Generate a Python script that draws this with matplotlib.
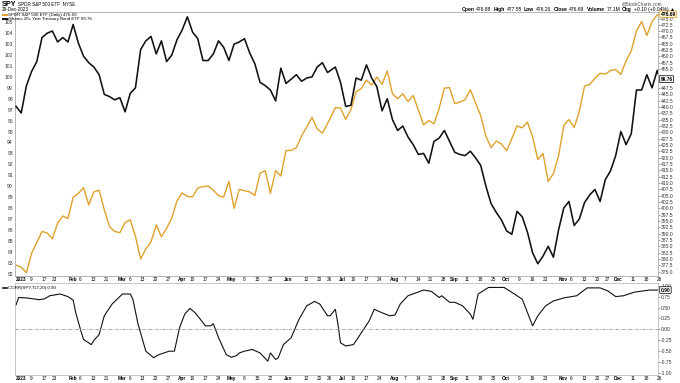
import matplotlib
matplotlib.use('Agg')
import matplotlib.pyplot as plt
import matplotlib.transforms as mtransforms
import pandas as pd

# price data: every other trading session
price_dates = [
    '01-03', '01-05', '01-09', '01-11', '01-13', '01-18', '01-20', '01-24', '01-26', '01-30',
    '02-01', '02-03', '02-07', '02-09', '02-13', '02-15', '02-17', '02-22', '02-24', '02-28',
    '03-02', '03-06', '03-08', '03-10', '03-14', '03-16', '03-20', '03-22', '03-24', '03-28', '03-30',
    '04-03', '04-05', '04-10', '04-12', '04-14', '04-18', '04-20', '04-24', '04-26', '04-28',
    '05-02', '05-04', '05-08', '05-10', '05-12', '05-16', '05-18', '05-22', '05-24', '05-26', '05-31',
    '06-02', '06-06', '06-08', '06-12', '06-14', '06-16', '06-21', '06-23', '06-27', '06-30',
    '07-05', '07-07', '07-11', '07-13', '07-17', '07-19', '07-21', '07-25', '07-27', '07-31',
    '08-02', '08-04', '08-08', '08-10', '08-14', '08-16', '08-18', '08-22', '08-24', '08-28', '08-30',
    '09-01', '09-06', '09-08', '09-12', '09-14', '09-18', '09-20', '09-22', '09-26', '09-28',
    '10-02', '10-04', '10-06', '10-10', '10-12', '10-16', '10-18', '10-20', '10-24', '10-26', '10-30',
    '11-01', '11-03', '11-07', '11-09', '11-13', '11-15', '11-17', '11-21', '11-24', '11-28', '11-30',
    '12-04', '12-06', '12-08', '12-12', '12-14', '12-18', '12-20', '12-22', '12-27', '12-28',
]

spy_close = [
    377.6, 376.8, 374.6, 382.3, 386.5, 390.9, 390.3, 388.0, 394.2, 397.0,
    396.0, 404.4, 405.9, 408.2, 401.4, 406.5, 407.2, 399.5, 392.8, 390.9,
    390.4, 394.4, 395.5, 389.0, 380.0, 384.0, 386.8, 393.5, 388.8, 392.1, 396.2,
    403.0, 406.1, 404.7, 404.6, 408.0, 408.6, 408.8, 407.2, 405.0, 404.5,
    410.7, 400.0, 407.5, 407.0, 406.5, 405.1, 413.9, 414.9, 406.0, 414.9, 412.8,
    422.8, 422.9, 424.0, 428.7, 432.1, 436.0, 431.4, 429.7, 433.5, 439.8,
    439.6, 435.1, 439.0, 446.1, 447.3, 450.7, 448.7, 451.9, 449.0, 454.3,
    445.3, 443.3, 445.3, 442.2, 444.6, 438.8, 433.0, 434.7, 433.4, 439.5, 447.5,
    447.7, 441.4, 442.0, 443.0, 446.9, 441.7, 436.7, 428.5, 424.0, 426.6,
    425.4, 422.8, 427.6, 432.6, 431.8, 434.1, 428.3, 419.3, 421.7, 410.7, 413.7,
    420.8, 432.8, 435.1, 431.9, 438.3, 448.3, 448.9, 451.4, 453.4, 453.0, 454.5,
    454.8, 452.9, 458.3, 462.2, 470.1, 473.8, 468.3, 473.7, 476.5, 476.69,
]

tlt_close = [
    97.3, 96.7, 99.2, 100.5, 101.4, 103.6, 104.0, 104.2, 103.2, 103.6,
    103.2, 104.8, 103.1, 101.9, 101.3, 100.9, 100.2, 98.4, 98.2, 97.9,
    98.1, 96.8, 98.5, 99.0, 102.5, 103.3, 103.7, 102.1, 103.3, 101.4, 102.0,
    103.4, 104.3, 105.5, 104.1, 103.5, 101.5, 101.5, 102.1, 103.3, 102.7,
    101.5, 103.0, 103.2, 103.5, 102.2, 101.2, 99.5, 99.2, 98.8, 97.8, 100.8,
    99.4, 99.8, 100.2, 99.6, 99.9, 100.0, 100.9, 101.3, 100.4, 100.9,
    99.5, 97.3, 97.4, 99.9, 99.7, 101.1, 99.9, 99.1, 96.9, 98.0,
    96.1, 95.1, 95.5, 94.5, 93.8, 92.9, 93.0, 92.1, 94.1, 94.4, 95.1,
    94.1, 93.1, 92.9, 92.8, 93.2, 92.6, 91.9, 90.0, 88.4, 87.6,
    86.9, 85.9, 85.6, 87.7, 87.2, 85.8, 83.9, 82.9, 83.6, 84.5, 83.5,
    86.0, 88.0, 88.6, 86.4, 87.0, 88.5, 89.2, 89.7, 88.6, 90.6, 91.4,
    92.8, 95.0, 93.8, 94.8, 98.8, 98.8, 100.2, 99.0, 100.6, 99.8,
]

corr_dates = [
    '01-03', '01-04', '01-09', '01-17', '01-19', '01-23', '01-27', '02-01', '02-03', '02-06',
    '02-08', '02-09', '02-14', '02-15', '02-17', '02-22', '02-27', '03-03', '03-08', '03-09',
    '03-13', '03-16', '03-21', '03-23', '03-29', '03-31', '04-04', '04-06', '04-11', '04-13',
    '04-19', '04-21', '04-24', '04-26', '05-01', '05-03', '05-05', '05-08', '05-10', '05-15',
    '05-18', '05-23', '05-24', '05-26', '05-30', '06-01', '06-06', '06-09', '06-14', '06-20',
    '06-22', '06-27', '06-28', '06-30', '07-03', '07-05', '07-07', '07-12', '07-17', '07-20',
    '07-24', '07-27', '08-01', '08-03', '08-07', '08-10', '08-18', '08-23', '08-28', '08-29',
    '09-01', '09-06', '09-11', '09-14', '09-15', '09-19', '09-25', '10-03', '10-09', '10-12',
    '10-18', '10-20', '10-25', '10-30', '11-03', '11-10', '11-16', '11-24', '11-29', '12-04',
    '12-07', '12-13', '12-21', '12-28',
]
corr_values = [
    0.56, 0.73, 0.72, 0.68, 0.70, 0.77, 0.81, 0.75, 0.67, 0.38,
    -0.04, -0.23, -0.35, -0.25, -0.12, 0.31, 0.58, 0.81, 0.81, 0.69,
    0.12, -0.50, -0.65, -0.58, -0.50, -0.50, 0.04, 0.35, 0.48, 0.38,
    0.08, 0.08, 0.13, -0.19, -0.58, -0.64, -0.60, -0.54, -0.50, -0.46,
    -0.54, -0.73, -0.54, -0.69, -0.65, -0.35, -0.19, 0.23, 0.54, 0.64,
    0.58, 0.31, 0.31, 0.46, 0.12, -0.31, -0.38, -0.35, -0.08, 0.19,
    0.46, 0.38, 0.31, 0.33, 0.58, 0.77, 0.90, 0.87, 0.73, 0.77,
    0.62, 0.62, 0.54, 0.35, 0.23, 0.81, 0.96, 0.96, 0.81, 0.69,
    0.08, 0.31, 0.54, 0.65, 0.72, 0.77, 0.95, 0.95, 0.88, 0.75,
    0.77, 0.85, 0.90, 0.90,
]

tick_dates = [
    '01-03', '01-09', '01-17', '01-23', '02-01', '02-06', '02-13', '02-21', '03-01', '03-06',
    '03-13', '03-20', '03-27', '04-03', '04-10', '04-17', '04-24', '05-01', '05-08', '05-15',
    '05-22', '06-01', '06-12', '06-20', '06-26', '07-03', '07-10', '07-17', '07-24', '08-01',
    '08-07', '08-14', '08-21', '08-28', '09-01', '09-11', '09-18', '09-25', '10-02', '10-09',
    '10-16', '10-23', '11-01', '11-06', '11-13', '11-20', '11-27', '12-01', '12-11', '12-18',
    '12-26',
]
tick_labels = [
    '2023', '9', '17', '23', 'Feb', '6', '13', '21', 'Mar', '6',
    '13', '20', '27', 'Apr', '10', '17', '24', 'May', '8', '15',
    '22', 'Jun', '12', '20', '26', 'Jul', '10', '17', '24', 'Aug',
    '7', '14', '21', '28', 'Sep', '11', '18', '25', 'Oct', '9',
    '16', '23', 'Nov', '6', '13', '20', '27', 'Dec', '11', '18',
    '26',
]

holidays = ['2023-01-16', '2023-02-20', '2023-04-07', '2023-05-29', '2023-06-19',
            '2023-07-04', '2023-09-04', '2023-11-23', '2023-12-25']
sessions = pd.bdate_range('2023-01-03', '2023-12-29').drop(pd.to_datetime(holidays))


def session_pos(dates):
    return sessions.get_indexer(pd.to_datetime(['2023-' + d for d in dates]))


GOLD = '#DFA12B'
plt.rcParams['font.family'] = ['Liberation Sans', 'DejaVu Sans']
FS = 3.6
XFS = 3.4
LFS = 3.2

W, H = 680, 383
fig = plt.figure(figsize=(W / 100, H / 100), dpi=100)


def px_box(l, t, r, b):
    return [l / W, 1 - b / H, (r - l) / W, (b - t) / H]


ax = fig.add_axes(px_box(15, 12, 658, 276))
ax2 = ax.twinx()
ax3 = fig.add_axes(px_box(15, 283, 658, 375))

xp = session_pos(price_dates)
xc = session_pos(corr_dates)
xt = session_pos(tick_dates)
xlim = (-0.4, 247.3)

ax.plot(xp, tlt_close, color='#111111', lw=1.15, zorder=3)
ax2.plot(xp, spy_close, color=GOLD, lw=1.0, zorder=2)
ax.set_zorder(ax2.get_zorder() + 1)
ax.patch.set_visible(False)

ax.set_ylim(81.78, 105.94)
ax2.set_ylim(373.3, 477.57)
ax.set_yticks(range(82, 106))
ax.set_yticklabels([str(v) for v in range(82, 106)])

# right scale labels; the ones hidden behind the TLT value box are left blank
spy_ticks = [375 + 2.5 * i for i in range(41)]
ax2.set_yticks(spy_ticks)
ax2.set_yticklabels(['' if v in (450.0, 452.5) else f'{v:.1f}' for v in spy_ticks])

ax3.plot(xc, corr_values, color='#111111', lw=0.8)
ax3.axhline(0, color='#9a9a9a', lw=0.6, ls=(0, (4, 1.5, 1, 1.5)))
ax3.set_ylim(-1.046, 1.062)
ax3.yaxis.tick_right()
corr_ticks = [-1, -0.75, -0.5, -0.25, 0, 0.25, 0.5, 0.75, 1]
ax3.set_yticks(corr_ticks)
ax3.set_yticklabels([f'{v:.2f}' for v in corr_ticks])

for a in (ax, ax2, ax3):
    a.set_xlim(*xlim)
    a.set_xticks([])

# date labels under both panels, centred a little right of the session
for a in (ax, ax3):
    blend = mtransforms.blended_transform_factory(a.transData, a.transAxes)
    for x, lab in zip(xt, tick_labels):
        bold = lab == '2023' or not lab.isdigit()
        a.annotate(lab, (x + 1.8, 0), xycoords=blend, xytext=(0, -2.6),
                   textcoords='offset points', ha='center', va='center',
                   fontsize=XFS, fontweight='bold' if bold else 'normal',
                   annotation_clip=False)

ax.tick_params(axis='y', length=0, pad=1.5, labelsize=FS, labelcolor='#333333')
ax2.tick_params(axis='y', length=1.5, width=0.4, pad=0.8, labelsize=FS,
                color='#555555', labelcolor='#333333')
ax3.tick_params(axis='y', length=1.5, width=0.4, pad=0.8, labelsize=FS,
                color='#555555', labelcolor='#333333')

for a in (ax, ax2, ax3):
    for s in a.spines.values():
        s.set_color('#b0b0b0')
        s.set_linewidth(0.5)

# value boxes on the right edge
right_blend2 = mtransforms.blended_transform_factory(ax2.transAxes, ax2.transData)
ax2.text(1.004, spy_close[-1], f'{spy_close[-1]:.2f}', transform=right_blend2,
         fontsize=FS, fontweight='bold', va='center', ha='left', zorder=10, clip_on=False,
         bbox=dict(boxstyle='round,pad=0.18', fc='#fff8e0', ec=GOLD, lw=0.6))
tlt_blend = mtransforms.blended_transform_factory(ax2.transAxes, ax.transData)
ax2.text(1.004, tlt_close[-1], '99.76', transform=tlt_blend,
         fontsize=FS, fontweight='bold', va='center', ha='left', zorder=10, clip_on=False,
         bbox=dict(boxstyle='round,pad=0.18', fc='white', ec='#222222', lw=0.6))
right_blend3 = mtransforms.blended_transform_factory(ax3.transAxes, ax3.transData)
ax3.text(1.004, corr_values[-1], f'{corr_values[-1]:.2f}', transform=right_blend3,
         fontsize=FS, fontweight='bold', va='center', ha='left', zorder=10, clip_on=False,
         bbox=dict(boxstyle='round,pad=0.18', fc='white', ec='#222222', lw=0.6))


def fig_px(x, y):
    return x / W, 1 - y / H


def text_run(x, y, parts, align='left', gap=2.0):
    renderer = fig.canvas.get_renderer()
    items = []
    for txt, weight, size in parts:
        t = fig.text(0, 0, txt, fontsize=size, fontweight=weight, va='baseline', ha='left')
        items.append((t, t.get_window_extent(renderer).width))
    total = sum(w for _, w in items) + gap * (len(items) - 1)
    cx = x - total if align == 'right' else x
    for t, w in items:
        t.set_position(fig_px(cx, y))
        cx += w + gap


# header
text_run(2, 6, [('SPY', 'bold', 5.2), ('SPDR S&P 500 ETF  NYSE', 'normal', 3.3)])
fig.text(*fig_px(2, 9.3), '29-Dec-2023', fontsize=3.3, va='center', ha='left')
fig.text(*fig_px(662, 4), '@StockCharts.com', fontsize=3.3, va='center', ha='right',
         color='#444444')
text_run(675, 10.6, [('Open', 'bold', FS), ('476.88', 'normal', FS), ('High', 'bold', FS),
                     ('477.55', 'normal', FS), ('Low', 'bold', FS), ('476.26', 'normal', FS),
                     ('Close', 'bold', FS), ('476.69', 'normal', FS), ('Volume', 'bold', FS),
                     ('77.1M', 'normal', FS), ('Chg', 'bold', FS),
                     ('+0.10 (+0.04%) \u25b2', 'normal', FS)], align='right')

# legends
fig.add_artist(plt.Line2D([3 / W, 7 / W], [1 - 14.8 / H] * 2, color=GOLD, lw=1.4))
fig.text(*fig_px(8.5, 14.8), 'SPDR S&P 500 ETF (Daily) 476.69', fontsize=LFS,
         va='center', ha='left')
fig.add_artist(plt.Line2D([3 / W, 7 / W], [1 - 18.6 / H] * 2, color='#111111', lw=1.4))
fig.text(*fig_px(8.5, 18.6), 'iShares 20+ Year Treasury Bond ETF 99.76', fontsize=LFS,
         va='center', ha='left')
fig.add_artist(plt.Line2D([3 / W, 7 / W], [1 - 287.5 / H] * 2, color='#111111', lw=1.2))
fig.text(*fig_px(8.5, 287.5), 'CORR(SPY,TLT,20) 0.90', fontsize=LFS, va='center', ha='left')

fig.savefig('out.png', dpi=100)
